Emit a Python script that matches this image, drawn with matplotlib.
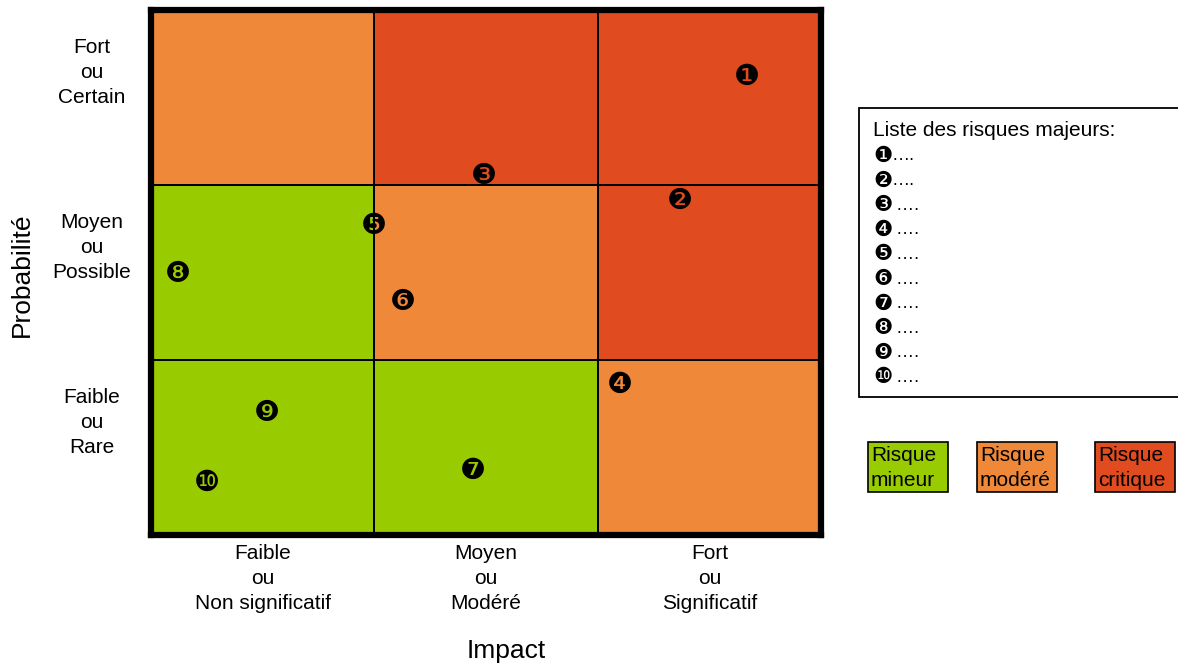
import matplotlib
matplotlib.use("Agg")
import matplotlib.pyplot as plt
import matplotlib.transforms as mtransforms
import numpy as np
from matplotlib.colors import ListedColormap
from matplotlib.patches import Rectangle

# ---------------- data ----------------
impact_labels = ["Faible\nou\nNon significatif", "Moyen\nou\nModéré", "Fort\nou\nSignificatif"]
probability_labels = ["Faible\nou\nRare", "Moyen\nou\nPossible", "Fort\nou\nCertain"]
# risk level per cell: rows = probability (bottom -> top), cols = impact (left -> right)
risk_grid = [[0, 0, 1],
             [0, 1, 2],
             [1, 2, 2]]
level_names = ["Risque\nmineur", "Risque\nmodéré", "Risque\ncritique"]
level_colors = ["#99CC00", "#F0883A", "#E04B20"]
risk_ids = [1, 2, 3, 4, 5, 6, 7, 8, 9, 10]
risk_impact = [2.67, 2.37, 1.49, 2.10, 1.00, 1.13, 1.44, 0.12, 0.52, 0.25]
risk_probability = [2.63, 1.92, 2.06, 0.87, 1.78, 1.34, 0.38, 1.50, 0.71, 0.31]
list_title = "Liste des risques majeurs:"
list_entries = ["….", "….", " ….", " ….", " ….", " ….", " ….", " ….", " ….", " …."]
x_title = "Impact"
y_title = "Probabilité"

plt.rcParams['font.family'] = ['Liberation Sans', 'DejaVu Sans']

W, H = 1178, 666
fig = plt.figure(figsize=(W / 100, H / 100), dpi=100)
L, R, T, B = 151, 821, 10, 535
ax = fig.add_axes([L / W, 1 - B / H, (R - L) / W, (B - T) / H])

n = len(impact_labels)
ax.pcolormesh(np.arange(n + 1), np.arange(n + 1), np.array(risk_grid),
              cmap=ListedColormap(level_colors), vmin=-0.5, vmax=len(level_colors) - 0.5,
              edgecolors='black', linewidth=1.3)
ax.set_xlim(0, n)
ax.set_ylim(0, n)
ax.set_xticks([])
ax.set_yticks([])
for s in ax.spines.values():
    s.set_linewidth(4.5)
    s.set_color('black')

def glyph(i):
    return chr(0x2775 + i)

# small downward offset so that the glyph's ink is centred on the point
mark_tr = mtransforms.offset_copy(ax.transData, fig=fig, x=0, y=-2, units='dots')
for rid, xi, yi in zip(risk_ids, risk_impact, risk_probability):
    ax.text(xi, yi, glyph(rid), ha='center', va='center', fontsize=21,
            family=['DejaVu Sans'], color='black', transform=mark_tr)

for i, lab in enumerate(impact_labels):
    ax.text(i + 0.5, -0.05, lab, ha='center', va='top', fontsize=15, clip_on=False,
            linespacing=1.4)
for i, lab in enumerate(probability_labels):
    ax.text(-0.265, i + 0.645, lab, ha='center', va='center', fontsize=15, clip_on=False,
            linespacing=1.4)

# overlay in pixel coordinates
ov = fig.add_axes([0, 0, 1, 1])
ov.set_xlim(0, W)
ov.set_ylim(H, 0)
ov.axis('off')
ov.patch.set_visible(False)

ov.text(506, 651, x_title, ha='center', va='center', fontsize=19)
ov.text(22, 275, y_title, ha='center', va='center', fontsize=19, rotation=90)

# list box
ov.add_patch(Rectangle((859, 108), 330, 289, facecolor='white', edgecolor='black', linewidth=1.3))
ov.text(873, 130, list_title, ha='left', va='center', fontsize=15)
for k, (rid, entry) in enumerate(zip(risk_ids, list_entries)):
    y = 156 + k * 24.6
    ov.text(873, y, glyph(rid), ha='left', va='center', fontsize=15.5, family=['DejaVu Sans'])
    ov.text(891, y, entry, ha='left', va='center', fontsize=13)

# level legend boxes
box_x = [868, 977, 1095]
for bx, name, col in zip(box_x, level_names, level_colors):
    ov.add_patch(Rectangle((bx, 442), 80, 50, facecolor=col, edgecolor='black', linewidth=1.2))
    ov.text(bx + 3, 468, name, ha='left', va='center', fontsize=15, linespacing=1.35)

fig.savefig("out.png", dpi=100)
